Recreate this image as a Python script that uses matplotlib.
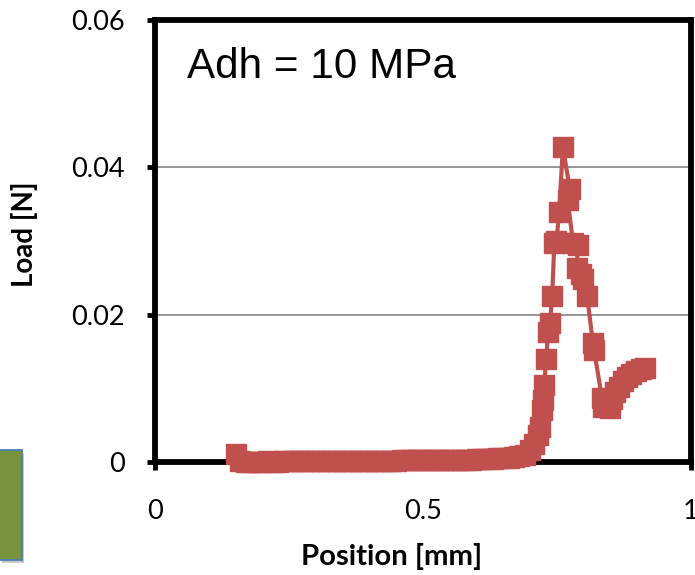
import matplotlib
matplotlib.use("Agg")
import matplotlib.pyplot as plt
from matplotlib.patches import Rectangle

# ---- data ----
position_mm = [0.151, 0.159, 0.170, 0.180, 0.190, 0.200, 0.210, 0.220, 0.230, 0.240,
               0.250, 0.260, 0.270, 0.280, 0.290, 0.300, 0.310, 0.320, 0.330, 0.340,
               0.350, 0.360, 0.370, 0.380, 0.390, 0.400, 0.410, 0.420, 0.430, 0.440,
               0.450, 0.460, 0.470, 0.480, 0.490, 0.500, 0.510, 0.520, 0.530, 0.540,
               0.550, 0.560, 0.570, 0.580, 0.590, 0.600, 0.610, 0.620, 0.630, 0.640,
               0.650, 0.660, 0.670, 0.680, 0.690, 0.700, 0.708, 0.714, 0.718, 0.722,
               0.724, 0.726, 0.730, 0.733, 0.737, 0.741, 0.745, 0.749, 0.754, 0.761,
               0.774, 0.770, 0.780, 0.789, 0.787, 0.795, 0.799, 0.806, 0.817, 0.819,
               0.834, 0.836, 0.849, 0.852, 0.858, 0.865, 0.873, 0.880, 0.888, 0.897,
               0.906, 0.914]
load_N = [0.0011, 0.0001, 0.0000, 0.0000, 0.0000, 0.0000, 0.0001, 0.0000, 0.0000, 0.0001,
          0.0001, 0.0001, 0.0001, 0.0001, 0.0002, 0.0002, 0.0002, 0.0002, 0.0002, 0.0002,
          0.0002, 0.0002, 0.0002, 0.0002, 0.0002, 0.0002, 0.0002, 0.0002, 0.0002, 0.0002,
          0.0002, 0.0003, 0.0003, 0.0003, 0.0003, 0.0003, 0.0003, 0.0003, 0.0003, 0.0003,
          0.0003, 0.0003, 0.0003, 0.0003, 0.0003, 0.0004, 0.0004, 0.0004, 0.0004, 0.0005,
          0.0005, 0.0006, 0.0007, 0.0008, 0.0010, 0.0016, 0.0025, 0.0036, 0.0048, 0.0070,
          0.0084, 0.0105, 0.0140, 0.0176, 0.0189, 0.0226, 0.0297, 0.0300, 0.0339, 0.0427,
          0.0370, 0.0355, 0.0297, 0.0294, 0.0264, 0.0255, 0.0248, 0.0226, 0.0162, 0.0152,
          0.0087, 0.0075, 0.0073, 0.0085, 0.0095, 0.0102, 0.0110, 0.0116, 0.0120, 0.0124,
          0.0126, 0.0127]
x_ticks = [0, 0.5, 1]
x_tick_labels = ["0", "0.5", "1"]
y_ticks = [0, 0.02, 0.04, 0.06]
y_tick_labels = ["0", "0.02", "0.04", "0.06"]

RED = "#C0504D"
TICK_FONT = "Lato"

fig = plt.figure(figsize=(6.95, 5.75), dpi=100)
W, H = 695, 575
ax = fig.add_axes([155 / W, 1 - 462 / H, (691 - 155) / W, (462 - 20) / H])

ax.plot(position_mm, load_N, color=RED, lw=3, marker="s", ms=14,
        mfc=RED, mec=RED, clip_on=False, zorder=5)

ax.set_xlim(0, 1)
ax.set_ylim(0, 0.06)
ax.set_xticks(x_ticks)
ax.set_xticklabels(x_tick_labels)
ax.set_yticks(y_ticks)
ax.set_yticklabels(y_tick_labels)
for lab in ax.get_xticklabels() + ax.get_yticklabels():
    lab.set_family(TICK_FONT)
    lab.set_fontsize(19.5)

for s in ax.spines.values():
    s.set_linewidth(4.2)
    s.set_color("black")
ax.tick_params(axis="both", direction="out", length=5.5, width=3.5, color="black")
ax.tick_params(axis="y", pad=16)
ax.tick_params(axis="x", pad=21)

ax.yaxis.grid(True, color="#8C8C8C", lw=1.3)
ax.set_axisbelow(True)

t_adh = fig.text(187 / W, 1 - 67 / H, "Adh = 10 MPa",
                 family="Liberation Sans", fontsize=30, va="center", ha="left")
t_x = fig.text(392 / W, 1 - 557 / H, "Position [mm]", family=TICK_FONT, weight="bold",
               fontsize=17, ha="center", va="center")
t_y = fig.text(25 / W, 1 - 234 / H, "Load [N]", family=TICK_FONT, weight="bold",
               fontsize=17, ha="center", va="center", rotation=90)

# scale text sizes to the extents seen in the reference
fig.canvas.draw()
r = fig.canvas.get_renderer()
def fit(t, target, vertical=False):
    bb = t.get_window_extent(r)
    cur = bb.height if vertical else bb.width
    t.set_fontsize(t.get_fontsize() * target / cur)
fit(t_adh, 269)
fit(t_x, 181)
fit(t_y, 106, vertical=True)

# green box at lower left (partly visible shape)
fig.patches.append(Rectangle((2 / W, 1 - 563 / H), 22 / W, 110 / H,
                             transform=fig.transFigure, facecolor="#C8C8C8",
                             edgecolor="none", zorder=1))
fig.patches.append(Rectangle((-5 / W, 1 - 560 / H), 27 / W, 110 / H,
                             transform=fig.transFigure, facecolor="#77933C",
                             edgecolor="#4A7EBB", lw=1.3, zorder=2))

fig.savefig("out.png", dpi=100)
